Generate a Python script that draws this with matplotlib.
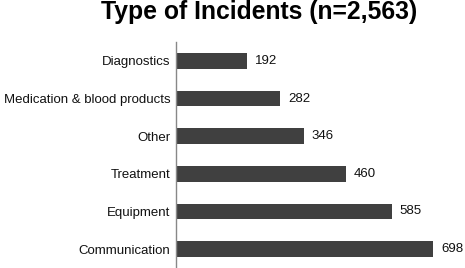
import matplotlib
matplotlib.use("Agg")
import matplotlib.pyplot as plt

# categories top to bottom and their counts
categories = ["Diagnostics", "Medication & blood products", "Other",
              "Treatment", "Equipment", "Communication"]
counts = [192, 282, 346, 460, 585, 698]

plt.rcParams['font.family'] = ['Liberation Sans', 'DejaVu Sans']

fig = plt.figure(figsize=(4.65, 2.68), dpi=100)
ax = fig.add_axes([176 / 465, 0.0, 1 - 176 / 465, 1 - 42 / 268])

pos = list(range(len(categories)))
ax.barh(pos, counts, height=0.42, color="#404040")
ax.set_ylim(5.5, -0.5)
ax.set_xlim(0, 784)

for p, c in zip(pos, counts):
    ax.text(c + 22, p, str(c), va="center", ha="left", fontsize=9.5, color="#111111")

ax.set_yticks(pos)
ax.set_yticklabels(categories, fontsize=9.5, color="#111111")
ax.tick_params(axis="y", length=0, pad=4)
ax.set_xticks([])

for s in ["top", "right", "bottom"]:
    ax.spines[s].set_visible(False)
ax.spines["left"].set_color("#888888")
ax.spines["left"].set_linewidth(1.0)

fig.text(259 / 465, 1 - 12 / 268, "Type of Incidents (n=2,563)", ha="center", va="center",
         fontsize=17.8, fontweight="bold")

fig.savefig("out.png", dpi=100)
